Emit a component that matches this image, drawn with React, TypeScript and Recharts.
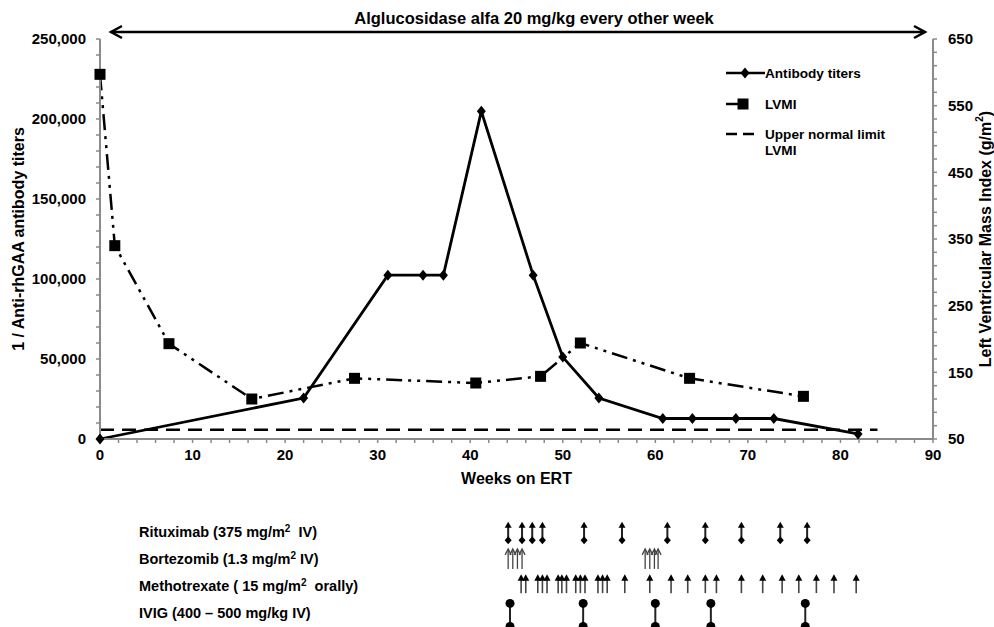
import React from "react";
import { LineChart, Line, XAxis, YAxis, Legend, ScatterChart, Scatter } from "recharts";

// main panel: antibody titers (left axis) and LVMI (right axis) vs weeks on ERT
const titerWeeks = [0, 22, 31.1, 34.9, 37.1, 41.2, 46.8, 50, 53.9, 60.8, 64, 68.7, 72.8, 81.9];
const titerValues = [0, 25600, 102400, 102400, 102400, 204800, 102400, 51200, 25600, 12800, 12800, 12800, 12800, 3200];

const lvmiWeeks = [0, 1.6, 7.45, 16.4, 27.5, 40.6, 47.6, 51.9, 63.7, 76.0];
const lvmiValues = [597, 340, 193, 110, 141, 134, 144, 194, 141, 114];

const limitWeeks = [0, 84];
const limitValue = 64;

const weekTicks = [0, 2, 4, 6, 8, 10, 12, 14, 16, 18, 20, 22, 24, 26, 28, 30, 32, 34, 36, 38, 40, 42, 44, 46, 48, 50, 52, 54, 56, 58, 60, 62, 64, 66, 68, 70, 72, 74, 76, 78, 80, 82, 84, 86, 88, 90];
const weekLabels = [0, 10, 20, 30, 40, 50, 60, 70, 80, 90];
const titerTicks = [0, 10000, 20000, 30000, 40000, 50000, 60000, 70000, 80000, 90000, 100000, 110000, 120000, 130000, 140000, 150000, 160000, 170000, 180000, 190000, 200000, 210000, 220000, 230000, 240000, 250000];
const titerLabels = [0, 50000, 100000, 150000, 200000, 250000];
const lvmiTicks = [50, 70, 90, 110, 130, 150, 170, 190, 210, 230, 250, 270, 290, 310, 330, 350, 370, 390, 410, 430, 450, 470, 490, 510, 530, 550, 570, 590, 610, 630, 650];
const lvmiLabels = [50, 150, 250, 350, 450, 550, 650];

// treatment panel: week of each dose
const rituximabWeeks = [44.1, 45.6, 46.7, 47.8, 52.3, 56.4, 61.3, 65.4, 69.3, 73.5, 76.4];
const bortezomibWeeks = [44.1, 44.6, 45.1, 45.6, 58.9, 59.4, 59.9, 60.3];
const methotrexateWeeks = [45.5, 46.0, 47.3, 47.8, 48.3, 49.5, 49.9, 50.4, 51.4, 51.9, 52.4, 53.8, 54.3, 54.8, 56.7, 59.4, 61.7, 63.5, 65.4, 66.6, 69.3, 71.6, 73.7, 75.5, 77.4, 79.3, 81.7];
const ivigWeeks = [44.3, 52.2, 60.0, 66.0, 76.2];
const drugLabels = [
  ["Rituximab (375 mg/m", "2", "  IV)"],
  ["Bortezomib (1.3 mg/m", "2", " IV)"],
  ["Methotrexate ( 15 mg/m", "2", "  orally)"],
  ["IVIG (400 \u2013 500 mg/kg IV)", "", ""],
];

const FONT = "'Liberation Sans', Arial, Helvetica, sans-serif";
const AXIS = "#8a8a8a";

const titerData = titerWeeks.map((week, i) => ({ week, titer: titerValues[i] }));
const lvmiData = lvmiWeeks.map((week, i) => ({ week, lvmi: lvmiValues[i] }));
const limitData = limitWeeks.map((week) => ({ week, limit: limitValue }));
const rowData = (weeks: number[], row: number) => weeks.map((week) => ({ week, row }));

const txt = { fontFamily: FONT, fontWeight: "bold" as const, fill: "#000" };

function Diamond({ cx, cy }: any) {
  return <polygon points={`${cx},${cy - 5.5} ${cx + 4.5},${cy} ${cx},${cy + 5.5} ${cx - 4.5},${cy}`} fill="#000" />;
}
function Square({ cx, cy }: any) {
  return <rect x={cx - 5.5} y={cy - 5.5} width={11} height={11} fill="#000" />;
}

const weekTick = ({ x, y, payload }: any) =>
  weekLabels.includes(payload.value) ? (
    <text x={x} y={y} dy="0.72em" textAnchor="middle" fontSize={15} {...txt}>{payload.value}</text>
  ) : <g />;

const titerTick = ({ x, y, payload }: any) =>
  titerLabels.includes(payload.value) ? (
    <text x={x} y={y} dy="0.36em" textAnchor="end" fontSize={15} {...txt}>{payload.value.toLocaleString("en-US")}</text>
  ) : <g />;

const lvmiTick = ({ x, y, payload }: any) =>
  lvmiLabels.includes(payload.value) ? (
    <text x={x} y={y} dy="0.36em" textAnchor="start" fontSize={15} {...txt}>{payload.value}</text>
  ) : <g />;

const xTitle = ({ viewBox }: any) => (
  <text x={viewBox.x + viewBox.width / 2} y={viewBox.y + 45} textAnchor="middle" fontSize={16} {...txt}>Weeks on ERT</text>
);
const leftTitle = () => (
  <text x={18} y={239} transform="rotate(-90 18 239)" textAnchor="middle" dominantBaseline="central" fontSize={16} {...txt}>
    1 / Anti-rhGAA antibody titers
  </text>
);
const rightTitle = () => (
  <text x={985} y={239} transform="rotate(-90 985 239)" textAnchor="middle" dominantBaseline="central" fontSize={16} {...txt}>
    Left Ventricular Mass Index (g/m<tspan fontSize={10} dy={-6}>2</tspan><tspan dy={6}>)</tspan>
  </text>
);

function LegendBox() {
  return (
    <svg width={230} height={100} style={{ overflow: "visible" }}>
      <line x1={6} y1={13} x2={45} y2={13} stroke="#000" strokeWidth={2.5} />
      <Diamond cx={25} cy={13} />
      <text x={45} y={13} dominantBaseline="central" fontSize={13.6} {...txt}>Antibody titers</text>
      <line x1={6} y1={44} x2={28} y2={44} stroke="#000" strokeWidth={2.5} />
      <Square cx={23} cy={44} />
      <text x={45} y={44} dominantBaseline="central" fontSize={13.6} {...txt}>LVMI</text>
      <line x1={6} y1={74} x2={34} y2={74} stroke="#000" strokeWidth={2.5} strokeDasharray="11 6" />
      <text x={45} y={74} dominantBaseline="central" fontSize={13.6} {...txt}>Upper normal limit</text>
      <text x={45} y={90} dominantBaseline="central" fontSize={13.6} {...txt}>LVMI</text>
    </svg>
  );
}

const RituximabMark = ({ cx, cy }: any) => (
  <g>
    <line x1={cx} y1={cy - 5} x2={cx} y2={cy + 6} stroke="#222" strokeWidth={2} />
    <polygon points={`${cx},${cy - 10} ${cx + 3.5},${cy - 4} ${cx - 3.5},${cy - 4}`} fill="#000" />
    <polygon points={`${cx},${cy + 4.5} ${cx + 3.5},${cy + 8.5} ${cx},${cy + 12.5} ${cx - 3.5},${cy + 8.5}`} fill="#000" />
  </g>
);
const BortezomibMark = ({ cx, cy }: any) => (
  <g stroke="#444" fill="none" strokeWidth={1.3}>
    <line x1={cx} y1={cy - 9} x2={cx} y2={cy + 10} />
    <polyline points={`${cx - 3},${cy - 4} ${cx},${cy - 10} ${cx + 3},${cy - 4}`} />
  </g>
);
const MethotrexateMark = ({ cx, cy }: any) => (
  <g>
    <line x1={cx} y1={cy - 7} x2={cx} y2={cy + 7} stroke="#444" strokeWidth={1.6} />
    <polygon points={`${cx},${cy - 12} ${cx + 3.5},${cy - 5.5} ${cx - 3.5},${cy - 5.5}`} fill="#000" />
  </g>
);
const IvigMark = ({ cx, cy }: any) => (
  <g>
    <line x1={cx} y1={cy - 10} x2={cx} y2={cy + 13} stroke="#222" strokeWidth={2} />
    <circle cx={cx} cy={cy - 10} r={4.5} fill="#000" />
    <circle cx={cx} cy={cy + 13} r={4.5} fill="#000" />
  </g>
);

const drugTick = ({ y, payload }: any) => {
  const [main, sup, rest] = drugLabels[payload.value - 1];
  return (
    <text x={139} y={y} dominantBaseline="central" fontSize={14.5} style={{ whiteSpace: "pre" }} {...txt}>
      {main}
      {sup && <tspan fontSize={10} dy={-4}>{sup}</tspan>}
      {rest && <tspan dy={sup ? 4 : 0}>{rest}</tspan>}
    </text>
  );
};

export default function App() {
  return (
    <div style={{ position: "absolute", left: 0, top: 0, width: 994, height: 627, background: "#fff", overflow: "hidden", fontFamily: FONT }}>
      <svg width={994} height={40} style={{ position: "absolute", left: 0, top: 0, pointerEvents: "none" }}>
        <text x={534} y={18} textAnchor="middle" dominantBaseline="central" fontSize={16.5} {...txt}>
          Alglucosidase alfa 20 mg/kg every other week
        </text>
        <g stroke="#000" strokeWidth={2.5} fill="none">
          <line x1={111} y1={32} x2={925} y2={32} />
          <polyline points="122,26 111,32 122,38" />
          <polyline points="914,26 925,32 914,38" />
        </g>
      </svg>

      <LineChart width={994} height={490} margin={{ top: 39, right: 8, bottom: 6, left: 8 }}>
        <XAxis
          type="number"
          dataKey="week"
          domain={[0, 90]}
          ticks={weekTicks}
          interval={0}
          tick={weekTick}
          tickSize={4}
          tickMargin={6}
          tickLine={{ stroke: AXIS, strokeWidth: 1.5 }}
          axisLine={{ stroke: AXIS, strokeWidth: 2 }}
          height={45}
          label={xTitle}
        />
        <YAxis
          yAxisId="titer"
          orientation="left"
          type="number"
          domain={[0, 250000]}
          ticks={titerTicks}
          interval={0}
          width={92}
          tick={titerTick}
          tickSize={4}
          tickMargin={10}
          tickLine={{ stroke: AXIS, strokeWidth: 1.5 }}
          axisLine={{ stroke: AXIS, strokeWidth: 2 }}
          label={leftTitle}
        />
        <YAxis
          yAxisId="lvmi"
          orientation="right"
          type="number"
          domain={[50, 650]}
          ticks={lvmiTicks}
          interval={0}
          width={53}
          tick={lvmiTick}
          tickSize={4}
          tickMargin={11}
          tickLine={{ stroke: AXIS, strokeWidth: 1.5 }}
          axisLine={{ stroke: AXIS, strokeWidth: 2 }}
          label={rightTitle}
        />
        <Legend
          layout="vertical"
          align="center"
          verticalAlign="middle"
          content={() => <LegendBox />}
          wrapperStyle={{ left: 720, top: 60, width: 230, height: 100 }}
        />
        <Line
          yAxisId="lvmi"
          data={limitData}
          dataKey="limit"
          stroke="#000"
          strokeWidth={2.5}
          strokeDasharray="14 8"
          dot={false}
          activeDot={false}
          isAnimationActive={false}
        />
        <Line
          yAxisId="lvmi"
          data={lvmiData}
          dataKey="lvmi"
          stroke="#000"
          strokeWidth={2.5}
          strokeDasharray="16 6 3 6 3 6"
          dot={(p: any) => <Square key={`s${p.index}`} cx={p.cx} cy={p.cy} />}
          activeDot={false}
          isAnimationActive={false}
        />
        <Line
          yAxisId="titer"
          data={titerData}
          dataKey="titer"
          stroke="#000"
          strokeWidth={2.8}
          dot={(p: any) => <Diamond key={`d${p.index}`} cx={p.cx} cy={p.cy} />}
          activeDot={false}
          isAnimationActive={false}
        />
      </LineChart>

      <ScatterChart width={994} height={137} margin={{ top: 28, right: 61, bottom: 0, left: 0 }}>
        <XAxis type="number" dataKey="week" domain={[0, 90]} hide />
        <YAxis
          type="number"
          dataKey="row"
          domain={[0.5, 4.5]}
          reversed
          ticks={[1, 2, 3, 4]}
          interval={0}
          width={100}
          axisLine={false}
          tickLine={false}
          tick={drugTick}
        />
        <Scatter data={rowData(rituximabWeeks, 1)} shape={RituximabMark} isAnimationActive={false} />
        <Scatter data={rowData(bortezomibWeeks, 2)} shape={BortezomibMark} isAnimationActive={false} />
        <Scatter data={rowData(methotrexateWeeks, 3)} shape={MethotrexateMark} isAnimationActive={false} />
        <Scatter data={rowData(ivigWeeks, 4)} shape={IvigMark} isAnimationActive={false} />
      </ScatterChart>
    </div>
  );
}
